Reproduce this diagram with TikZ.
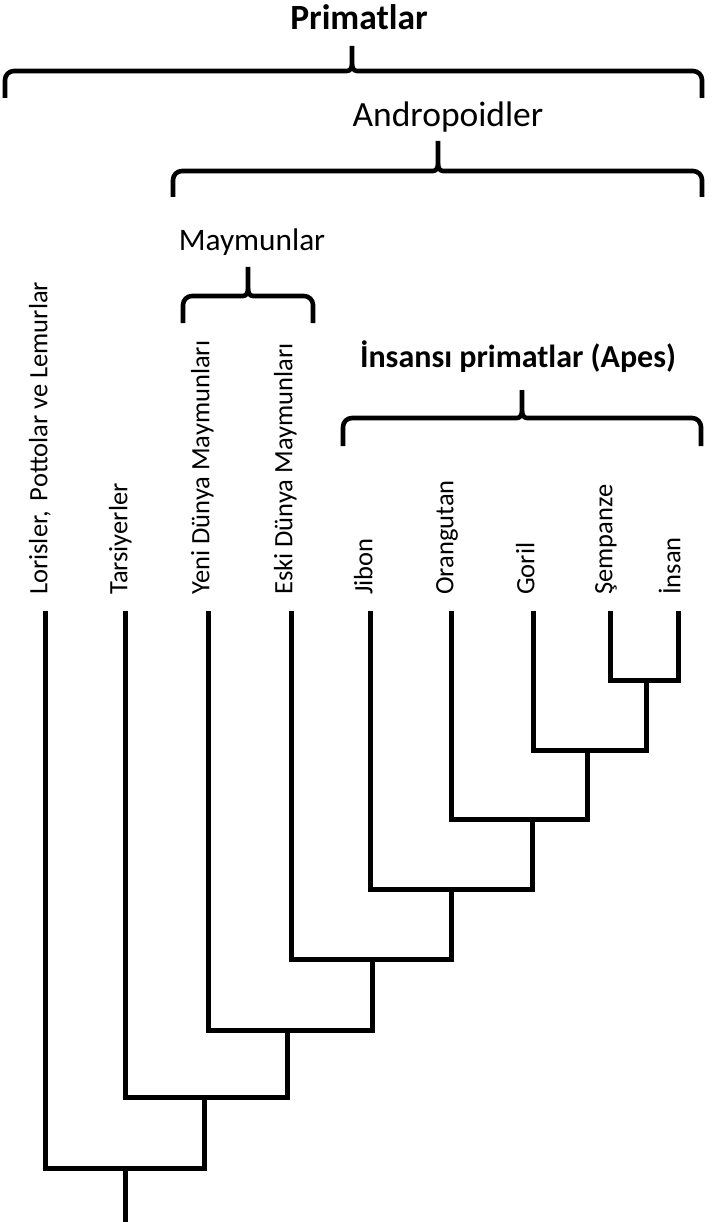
\documentclass[tikz,border=0pt]{standalone}
\usepackage{fontspec}
\setmainfont{Carlito}
\newcommand\mybrace[6]{% x1 x2 xt yh ytop yb
 \draw[brace] (#1,#6) -- (#1,#4+9) to[out=90,in=180] (#1+9,#4) -- (#3-5,#4) to[out=0,in=-90] (#3,#4-7) -- (#3,#5);
 \draw[brace] (#3,#4-7) to[out=-90,in=180] (#3+5,#4) -- (#2-9,#4) to[out=0,in=90] (#2,#4+9) -- (#2,#6);
}
\begin{document}
\begin{tikzpicture}[x=1pt,y=-1pt,
 tree/.style={line width=5pt, line join=miter, line cap=butt},
 brace/.style={line width=4.6pt, line cap=butt, line join=round},
 leaf/.style={rotate=90, anchor=mid west, inner sep=0pt, font=\fontsize{26.5}{30}\selectfont},
 head/.style={anchor=base, inner sep=0pt}]
\useasboundingbox (0,0) rectangle (713,1222);

% headings
\node[head, font=\bfseries\fontsize{35.5}{40}\selectfont] (prim) at (359,30) {Primatlar};
\node[head, font=\fontsize{35.5}{40}\selectfont] (andr) at (448,127) {Andropoidler};
\node[head, font=\fontsize{31.3}{36}\selectfont] (maym) at (252,251) {Maymunlar};
\node[head, font=\bfseries\fontsize{32}{36}\selectfont] (apes) at (518,367) {İnsansı primatlar (Apes)};

% braces
\mybrace{5}{702}{352}{71}{46}{98}
\mybrace{173}{702}{438}{171}{141}{197}
\mybrace{183}{313}{248}{296}{267}{323}
\mybrace{343}{701}{522}{418}{390}{446}

% leaf labels
\node[leaf] (lL) at (45,595) {Lorisler,\hspace{0.38em}Pottolar ve Lemurlar};
\node[leaf] (lT) at (125,595) {Tarsiyerler};
\node[leaf] (lY) at (207,595) {Yeni Dünya Maymunları};
\node[leaf] (lE) at (290,595) {Eski Dünya Maymunları};
\node[leaf] (lJ) at (370,595) {Jibon};
\node[leaf] (lO) at (451,595) {Orangutan};
\node[leaf] (lG) at (532,595) {Goril};
\node[leaf] (lS) at (610,595) {Şempanze};
\node[leaf] (lI) at (678,595) {İnsan};

% tree
\coordinate (tL) at (45,611);
\coordinate (tT) at (125,611);
\coordinate (tY) at (208,611);
\coordinate (tE) at (291,611);
\coordinate (tJ) at (370,611);
\coordinate (tO) at (451,611);
\coordinate (tG) at (533,611);
\coordinate (tS) at (610,611);
\coordinate (tI) at (678,611);
\coordinate (n1) at (646,680);
\coordinate (n2) at (587,750);
\coordinate (n3) at (532,819);
\coordinate (n4) at (451,889);
\coordinate (n5) at (372,959);
\coordinate (n6) at (287,1030);
\coordinate (n7) at (204,1097);
\coordinate (n8) at (125,1168);
\coordinate (root) at (125,1222);

\draw[tree] (tS) |- (n1) -| (tI);
\draw[tree] (tG) |- (n2) -| (n1);
\draw[tree] (tO) |- (n3) -| (n2);
\draw[tree] (tJ) |- (n4) -| (n3);
\draw[tree] (tE) |- (n5) -| (n4);
\draw[tree] (tY) |- (n6) -| (n5);
\draw[tree] (tT) |- (n7) -| (n6);
\draw[tree] (tL) |- (n8) -| (n7);
\draw[tree] (n8) -- (root);
\end{tikzpicture}
\end{document}
